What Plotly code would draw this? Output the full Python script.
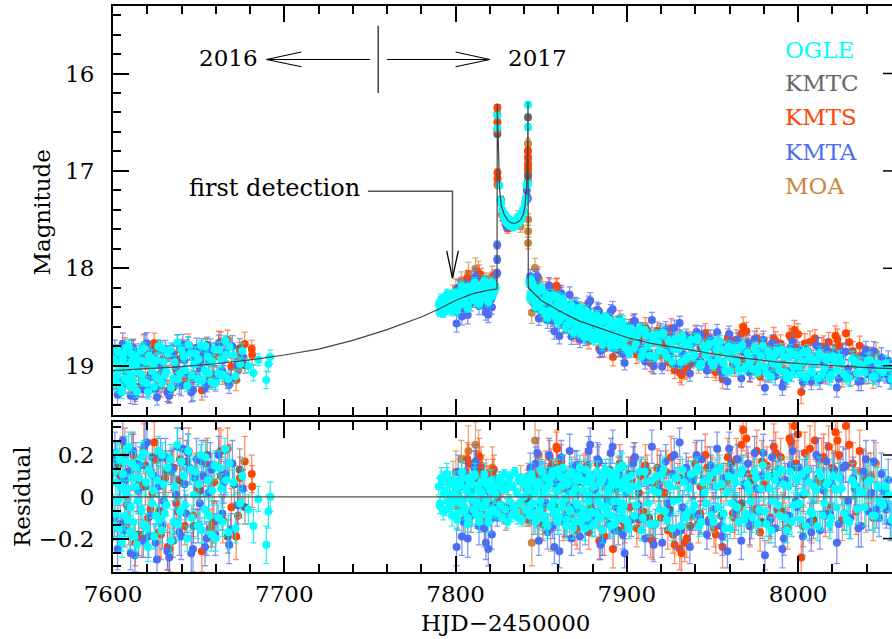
import numpy as np
import plotly.graph_objects as go

# ---------------- model light curve ----------------
model_t = [7600, 7620, 7640, 7660, 7680, 7700, 7720, 7740, 7760, 7780,
           7790, 7800, 7810, 7818, 7824.2, 7824.35, 7825.0, 7825.7, 7826.7, 7828.5,
           7830.2, 7832.0, 7834.1, 7836.0, 7838.0, 7839.5, 7840.4, 7841.5, 7842.1, 7842.3,
           7842.45, 7850, 7861, 7872, 7885, 7900, 7914, 7930, 7943, 7958,
           7972, 7987, 8002, 8020, 8040, 8055]
model_m = [19.05, 19.03, 19.01, 18.98, 18.94, 18.89, 18.83, 18.74, 18.63, 18.50,
           18.42, 18.33, 18.26, 18.23, 18.21, 16.31, 16.75, 17.19, 17.36, 17.45,
           17.50, 17.53, 17.54, 17.53, 17.50, 17.45, 17.38, 17.16, 16.75, 16.29,
           18.20, 18.33, 18.44, 18.54, 18.62, 18.71, 18.77, 18.82, 18.86, 18.90,
           18.93, 18.96, 18.98, 19.00, 19.02, 19.03]

# ---------------- OGLE ----------------
ogle_t = [7600.3, 7601.2, 7602.4, 7603.3, 7604.5, 7605.2, 7606.4, 7607.3, 7608.5, 7609.2,
          7610.4, 7611.3, 7612.5, 7613.2, 7614.4, 7616.3, 7617.5, 7619.2, 7620.4, 7622.3,
          7623.5, 7625.2, 7626.4, 7628.3, 7629.5, 7631.2, 7633.4, 7635.3, 7637.5, 7639.2,
          7641.4, 7643.3, 7645.5, 7647.2, 7649.4, 7651.3, 7653.5, 7655.2, 7657.4, 7659.3,
          7661.5, 7663.2, 7665.4, 7667.3, 7670.5, 7674.2, 7679.1, 7682.0, 7684.8, 7689.5,
          7690.7, 7691.8,
          7790.2, 7791.1, 7792.3, 7793.2, 7794.4, 7795.3, 7796.2, 7797.4, 7798.3, 7799.2,
          7800.4, 7801.3, 7802.5, 7803.2, 7804.4, 7805.3, 7806.5, 7807.2, 7808.4, 7809.3,
          7810.5, 7811.2, 7812.4, 7813.3, 7814.5, 7815.2, 7816.4, 7817.3, 7818.5, 7819.2,
          7820.4, 7821.3, 7822.5, 7823.4, 7843.0, 7843.8, 7844.6, 7845.5, 7846.4, 7847.3,
          7848.5, 7849.4, 7850.3, 7851.5, 7852.4, 7853.3, 7854.5, 7855.4, 7856.3, 7857.5,
          7858.4, 7859.3, 7860.5, 7861.4, 7862.3, 7863.5, 7864.4, 7865.3, 7866.5, 7867.4,
          7868.3, 7869.5, 7870.4, 7871.3, 7872.5, 7873.4, 7874.3, 7875.5, 7876.4, 7877.3,
          7878.5, 7879.4, 7880.3, 7881.5, 7882.4, 7883.3, 7884.5, 7885.4, 7886.3, 7887.5,
          7888.4, 7889.3, 7890.5, 7891.4, 7892.3, 7893.5, 7894.4, 7895.3, 7896.5, 7897.4,
          7898.3, 7899.5, 7900.4, 7901.3, 7902.5, 7904.4, 7906.3, 7908.5, 7910.4, 7912.3,
          7914.5, 7916.4, 7918.3, 7920.5, 7922.4, 7924.3, 7926.5, 7928.4, 7930.3, 7932.5,
          7934.4, 7936.3, 7938.5, 7940.4, 7942.3, 7944.5, 7946.4, 7948.3, 7950.5, 7952.4,
          7954.3, 7956.5, 7958.4, 7960.3, 7962.5, 7964.4, 7966.3, 7968.5, 7970.4, 7972.3,
          7974.5, 7976.4, 7978.3, 7980.5, 7982.4, 7984.3, 7986.5, 7988.4, 7990.3, 7992.5,
          7994.4, 7996.3, 7998.5, 8000.4, 8002.3, 8004.5, 8006.4, 8008.3, 8010.5, 8012.4,
          8014.3, 8016.5, 8018.4, 8020.3, 8022.5, 8025.4, 8028.3, 8031.5, 8034.4, 8037.3,
          8040.5, 8043.4, 8046.3, 8049.5, 8053.1, 8054.5]
ogle_res = [0.12, -0.08, 0.21, -0.15, 0.05, -0.22, 0.17, 0.02, -0.11, 0.24,
            -0.05, 0.09, -0.19, 0.14, -0.02, 0.19, -0.13, 0.07, -0.24, 0.11,
            0.03, -0.09, 0.22, -0.16, 0.06, -0.04, 0.18, -0.12, 0.25, -0.07,
            0.10, -0.20, 0.13, 0.01, -0.14, 0.20, -0.06, 0.08, -0.18, 0.15,
            -0.10, 0.04, 0.23, -0.17, 0.07, -0.03, -0.06, -0.14, -0.01, -0.23,
            -0.07, 0.00,
            0.05, -0.03, 0.08, 0.02, -0.06, 0.10, 0.01, -0.04, 0.07, -0.02,
            0.04, -0.08, 0.06, -0.01, 0.09, -0.05, 0.03, -0.10, 0.07, 0.00,
            -0.06, 0.11, -0.03, 0.05, -0.09, 0.02, 0.08, -0.04, 0.06, -0.12,
            0.03, -0.07, 0.05, 0.01, 0.06, -0.04, 0.09, -0.08, 0.02, -0.11,
            0.07, -0.02, 0.12, -0.09, 0.04, -0.13, 0.08, -0.05, 0.10, -0.01,
            -0.07, 0.13, -0.10, 0.05, -0.03, 0.09, -0.14, 0.06, -0.06, 0.11,
            0.02, -0.12, 0.08, -0.04, 0.14, -0.09, 0.03, -0.15, 0.07, -0.02,
            0.10, -0.07, 0.05, -0.13, 0.12, 0.00, -0.10, 0.08, -0.05, 0.13,
            -0.08, 0.04, -0.14, 0.09, -0.02, 0.11, -0.11, 0.06, -0.06, 0.15,
            -0.04, 0.07, -0.12, 0.03, 0.10, -0.09, 0.05, -0.16, 0.12, -0.03,
            0.08, -0.13, 0.02, 0.11, -0.07, 0.06, -0.15, 0.09, -0.01, 0.13,
            -0.10, 0.04, -0.06, 0.12, -0.14, 0.07, -0.03, 0.10, -0.12, 0.05,
            0.14, -0.08, 0.02, -0.15, 0.09, -0.05, 0.11, -0.11, 0.06, -0.02,
            0.12, -0.13, 0.04, -0.07, 0.10, -0.16, 0.08, -0.04, 0.13, -0.10,
            0.05, -0.12, 0.09, -0.03, 0.11, -0.14, 0.07, -0.08, 0.03, 0.12,
            -0.09, 0.06, -0.13, 0.10, -0.05, 0.04, -0.11, 0.08, -0.06, 0.02,
            0.07, -0.09, 0.05, -0.04, 0.01, -0.11]
ogle_err = [.06, .07, .05, .08, .06, .07, .05, .06, .08, .07,
            .06, .05, .07, .08, .06, .07, .05, .06, .07, .08,
            .06, .05, .07, .06, .08, .05, .07, .06, .08, .07,
            .05, .06, .07, .08, .06, .05, .07, .06, .08, .07,
            .06, .07, .05, .08, .06, .07, .07, .08, .06, .09,
            .08, .07,
            .04, .03, .04, .05, .03, .04, .04, .03, .05, .04,
            .03, .04, .05, .03, .04, .04, .05, .03, .04, .03,
            .04, .05, .03, .04, .03, .05, .04, .04, .03, .05,
            .04, .03, .05, .04, .04, .05, .03, .04, .05, .04,
            .05, .04, .04, .05, .03, .05, .04, .06, .04, .05,
            .04, .05, .06, .04, .05, .04, .06, .05, .04, .05,
            .05, .06, .04, .05, .06, .04, .05, .06, .05, .04,
            .06, .05, .04, .06, .05, .06, .04, .05, .06, .05,
            .05, .06, .05, .04, .06, .05, .06, .05, .04, .06,
            .05, .06, .05, .06, .04, .05, .06, .05, .06, .05,
            .06, .05, .06, .05, .06, .04, .06, .05, .06, .05,
            .05, .06, .05, .06, .05, .06, .05, .06, .05, .06,
            .06, .05, .06, .05, .06, .06, .05, .06, .05, .06,
            .06, .05, .06, .06, .05, .06, .06, .05, .06, .06,
            .06, .07, .06, .05, .07, .06, .06, .07, .06, .07,
            .07, .06, .07, .08, .07, .08, .07, .08, .07, .08,
            .08, .07, .09, .08, .08, .09]
# second block of OGLE epochs
ogle_t_b = [7600.8, 7601.7, 7602.9, 7603.8, 7604.9, 7605.8, 7606.9, 7607.8, 7608.9, 7609.8,
            7610.9, 7611.8, 7612.9, 7614.0, 7615.3, 7616.8, 7618.0, 7619.8, 7621.0, 7622.8,
            7624.0, 7625.8, 7627.0, 7628.8, 7630.2, 7632.0, 7633.9, 7636.0, 7638.0, 7640.0,
            7642.0, 7644.0, 7646.0, 7648.0, 7650.0, 7652.0, 7654.0, 7656.0, 7658.0, 7660.0,
            7662.0, 7664.0, 7666.0, 7668.0, 7671.5, 7675.5,
            7790.7, 7791.6, 7792.8, 7793.7, 7794.9, 7795.8, 7796.7, 7797.9, 7798.8, 7799.7,
            7800.9, 7801.8, 7803.0, 7803.7, 7804.9, 7805.8, 7807.0, 7807.7, 7808.9, 7809.8,
            7811.0, 7811.7, 7812.9, 7813.8, 7815.0, 7815.7, 7816.9, 7817.8, 7819.0, 7819.7,
            7820.9, 7821.8, 7823.0, 7843.4, 7844.2, 7845.0, 7845.9, 7846.8, 7847.7, 7848.9,
            7849.8, 7850.7, 7851.9, 7852.8, 7853.7, 7854.9, 7855.8, 7856.7, 7857.9, 7858.8,
            7859.7, 7860.9, 7861.8, 7862.7, 7863.9, 7864.8, 7865.7, 7866.9, 7867.8, 7868.7,
            7869.9, 7870.8, 7871.7, 7872.9, 7873.8, 7874.7, 7875.9, 7876.8, 7877.7, 7878.9,
            7879.8, 7880.7, 7881.9, 7882.8, 7883.7, 7884.9, 7885.8, 7886.7, 7887.9, 7888.8,
            7889.7, 7890.9, 7891.8, 7892.7, 7893.9, 7894.8, 7895.7, 7896.9, 7897.8, 7898.7,
            7899.9, 7901.3, 7903.4, 7905.4, 7907.3, 7909.4, 7911.3, 7913.4, 7915.4, 7917.3,
            7919.4, 7921.4, 7923.3, 7925.4, 7927.4, 7929.3, 7931.4, 7933.4, 7935.3, 7937.4,
            7939.4, 7941.3, 7943.4, 7945.4, 7947.3, 7949.4, 7951.4, 7953.3, 7955.4, 7957.4,
            7959.3, 7961.4, 7963.4, 7965.3, 7967.4, 7969.4, 7971.3, 7973.4, 7975.4, 7977.3,
            7979.4, 7981.4, 7983.3, 7985.4, 7987.4, 7989.3, 7991.4, 7993.4, 7995.3, 7997.4,
            7999.4, 8001.3, 8003.4, 8005.4, 8007.3, 8009.4, 8011.4, 8013.3, 8015.4, 8017.4,
            8019.3, 8021.4, 8023.9, 8026.8, 8029.9, 8032.9, 8035.8, 8038.9, 8041.9, 8044.8,
            8047.9, 8051.0]
ogle_res_b = [-0.14, 0.07, -0.02, 0.18, -0.20, 0.11, -0.09, 0.23, 0.04, -0.17,
              0.16, -0.12, 0.05, -0.23, 0.09, -0.06, 0.21, -0.15, 0.13, -0.03,
              -0.19, 0.08, -0.11, 0.20, -0.08, 0.14, -0.21, 0.05, -0.13, 0.17,
              -0.04, 0.22, -0.10, 0.12, 0.06, -0.16, 0.19, -0.09, 0.03, -0.20,
              0.14, -0.12, 0.08, 0.16, -0.15, 0.10,
              -0.04, 0.09, -0.07, 0.03, 0.11, -0.02, 0.06, -0.09, 0.01, 0.08,
              -0.11, 0.05, -0.03, 0.12, -0.07, 0.04, -0.13, 0.09, -0.01, 0.06,
              0.10, -0.08, 0.03, -0.12, 0.07, -0.05, 0.11, -0.02, -0.09, 0.04,
              0.08, -0.06, 0.02, -0.09, 0.11, -0.03, 0.07, -0.12, 0.05, -0.06,
              0.13, -0.10, 0.02, 0.09, -0.14, 0.06, -0.04, 0.12, -0.08, 0.03,
              -0.12, 0.10, -0.05, 0.14, -0.01, -0.11, 0.07, -0.07, 0.12, -0.15,
              0.04, -0.03, 0.10, -0.12, 0.08, -0.06, 0.13, -0.10, 0.01, 0.09,
              -0.14, 0.05, -0.08, 0.11, -0.03, 0.07, -0.16, 0.10, -0.05, 0.02,
              0.12, -0.09, 0.06, -0.13, 0.08, -0.02, 0.14, -0.07, 0.04, -0.11,
              0.09, -0.15, 0.05, -0.04, 0.12, -0.10, 0.07, -0.13, 0.03, 0.10,
              -0.06, 0.13, -0.11, 0.05, -0.02, 0.09, -0.14, 0.07, -0.08, 0.11,
              -0.04, 0.14, -0.12, 0.02, 0.08, -0.09, 0.12, -0.05, 0.06, -0.15,
              0.10, -0.03, 0.07, -0.12, 0.13, -0.08, 0.03, -0.10, 0.09, -0.06,
              0.15, -0.13, 0.04, -0.02, 0.11, -0.09, 0.06, -0.16, 0.12, -0.04,
              0.08, -0.11, 0.02, 0.13, -0.07, 0.05, -0.14, 0.10, -0.03, 0.07,
              -0.10, 0.04, 0.09, -0.08, -0.12, 0.06, 0.03, -0.05, 0.08, -0.09,
              -0.02, 0.05]
ogle_err_b = [.07, .06, .08, .07, .06, .08, .07, .06, .07, .08,
              .06, .07, .08, .06, .07, .08, .06, .07, .08, .07,
              .06, .08, .07, .06, .08, .07, .06, .07, .08, .06,
              .07, .08, .06, .07, .08, .06, .07, .08, .07, .06,
              .08, .07, .06, .08, .07, .08,
              .04, .05, .04, .03, .05, .04, .03, .05, .04, .04,
              .05, .04, .03, .05, .04, .05, .04, .03, .05, .04,
              .04, .05, .04, .05, .03, .04, .05, .04, .05, .04,
              .05, .04, .05, .04, .05, .04, .05, .06, .04, .05,
              .05, .06, .04, .05, .06, .05, .04, .06, .05, .05,
              .06, .05, .04, .06, .05, .06, .05, .04, .06, .05,
              .06, .05, .06, .05, .04, .06, .05, .06, .05, .06,
              .05, .06, .05, .06, .05, .04, .06, .05, .06, .05,
              .06, .05, .06, .05, .06, .05, .06, .05, .06, .05,
              .06, .05, .06, .06, .05, .06, .05, .06, .06, .05,
              .06, .06, .05, .06, .06, .05, .06, .06, .05, .06,
              .06, .05, .06, .06, .05, .06, .06, .05, .06, .06,
              .06, .07, .06, .06, .07, .06, .06, .07, .06, .06,
              .07, .06, .07, .06, .07, .06, .07, .06, .07, .06,
              .07, .06, .07, .07, .06, .07, .07, .06, .07, .07,
              .07, .08, .07, .08, .08, .07, .08, .09, .08, .08,
              .09, .08]
ogle_pk_t = [7824.40, 7824.45, 7825.55, 7826.1, 7826.7, 7827.3, 7827.9, 7828.5, 7829.1, 7829.7,
             7830.3, 7830.9, 7831.5, 7832.1, 7832.7, 7833.3, 7833.9, 7834.5, 7835.1, 7835.7,
             7836.3, 7836.9, 7837.5, 7838.1, 7838.7, 7839.3, 7839.9, 7840.5, 7841.0, 7841.5,
             7842.30, 7842.30, 7842.30]
ogle_pk_m = [16.43, 16.56, 17.15, 17.30, 17.33, 17.40, 17.47, 17.44, 17.52, 17.47,
             17.54, 17.49, 17.56, 17.51, 17.57, 17.52, 17.58, 17.51, 17.56, 17.49,
             17.55, 17.47, 17.52, 17.44, 17.49, 17.40, 17.42, 17.33, 17.28, 17.15,
             16.32, 16.55, 17.13]
ogle_pk_res = [0.05, -0.08, 0.09, -0.04, 0.07, -0.10, 0.03, 0.11, -0.06, 0.04,
               -0.12, 0.08, -0.02, 0.10, -0.09, 0.05, -0.05, 0.12, -0.07, 0.02,
               -0.10, 0.08, -0.03, 0.09, -0.11, 0.06, 0.00, 0.07, -0.06, 0.09,
               0.03, -0.07, 0.05]
ogle_pk_err = [.03, .03, .03, .02, .03, .02, .03, .02, .03, .02,
               .03, .02, .03, .02, .03, .02, .03, .02, .03, .02,
               .03, .02, .03, .02, .03, .02, .03, .02, .03, .02,
               .03, .03, .03]

# ---------------- KMTA ----------------
kmta_t = [7600.6, 7601.6, 7602.7, 7603.8, 7605.7, 7606.8, 7608.7, 7609.8, 7611.7, 7612.8,
          7614.7, 7615.8, 7617.7, 7619.8, 7621.7, 7623.8, 7625.7, 7627.8, 7629.7, 7631.8,
          7633.7, 7635.8, 7637.7, 7639.8, 7641.7, 7643.8, 7645.7, 7647.8, 7649.7, 7651.8,
          7653.7, 7655.8, 7657.7, 7659.8, 7661.7, 7663.8, 7665.7, 7667.8, 7669.7, 7672.8,
          7800.6, 7802.7, 7804.8, 7806.6, 7807.1, 7808.7, 7810.8, 7812.6, 7814.7, 7816.8,
          7818.6, 7819.1, 7820.7, 7821.2, 7822.8, 7843.2, 7844.7, 7846.8, 7848.6, 7850.7,
          7852.8, 7854.6, 7856.7, 7858.8, 7860.6, 7862.7, 7864.8, 7866.6, 7868.7, 7870.8,
          7872.6, 7874.7, 7876.8, 7878.6, 7880.7, 7882.8, 7884.6, 7886.7, 7888.8, 7890.6,
          7892.7, 7894.8, 7896.6, 7898.7, 7900.8, 7902.6, 7904.7, 7906.8, 7908.6, 7910.7,
          7912.8, 7914.6, 7916.7, 7918.8, 7920.6, 7922.7, 7924.8, 7926.6, 7928.7, 7930.8,
          7932.6, 7934.7, 7936.8, 7938.6, 7940.7, 7942.8, 7944.6, 7946.7, 7948.8, 7950.6,
          7952.7, 7954.8, 7956.6, 7958.7, 7960.8, 7962.6, 7964.7, 7966.8, 7968.6, 7970.7,
          7972.8, 7974.6, 7976.7, 7978.8, 7980.6, 7982.7, 7984.8, 7986.6, 7988.7, 7990.8,
          7992.6, 7994.7, 7996.8, 7998.6, 8000.7, 8002.8, 8004.6, 8006.7, 8008.8, 8010.6,
          8012.7, 8014.8, 8016.6, 8018.7, 8020.8, 8022.6, 8024.7, 8027.8, 8030.6, 8033.7,
          8036.8, 8039.6, 8042.7, 8045.8, 8048.6, 8050.7]
kmta_res = [-0.10, 0.18, -0.25, 0.07, 0.27, -0.16, 0.12, -0.05, 0.22, -0.28,
            0.03, 0.15, -0.21, 0.26, -0.09, 0.10, -0.30, 0.19, -0.02, -0.26,
            0.14, -0.12, 0.24, -0.19, 0.06, 0.21, -0.27, 0.09, -0.14, 0.17,
            -0.24, 0.02, 0.13, -0.18, 0.20, -0.08, 0.11, -0.23, 0.16, -0.04,
            -0.24, 0.05, -0.12, 0.10, -0.20, 0.02, 0.14, -0.08, 0.07, -0.15,
            0.03, -0.25, -0.10, -0.18, 0.04, 0.09, -0.06, 0.16, -0.21, 0.11,
            -0.03, 0.20, -0.14, 0.06, -0.26, 0.13, -0.09, 0.22, -0.05, 0.15,
            -0.19, 0.08, -0.12, 0.25, -0.07, 0.18, -0.23, 0.10, -0.02, 0.21,
            -0.16, 0.05, 0.14, -0.27, 0.09, -0.11, 0.19, -0.04, 0.12, -0.20,
            0.07, 0.24, -0.13, 0.03, -0.22, 0.17, -0.08, 0.11, -0.17, 0.26,
            -0.05, 0.14, -0.24, 0.08, 0.20, -0.10, 0.02, -0.18, 0.15, -0.06,
            0.23, -0.14, 0.09, -0.26, 0.12, -0.03, 0.18, -0.21, 0.06, 0.16,
            -0.11, 0.21, -0.07, 0.10, -0.28, 0.04, 0.19, -0.15, 0.13, -0.25,
            0.08, -0.09, 0.22, -0.02, 0.14, -0.19, 0.11, -0.12, 0.06, 0.20,
            -0.16, 0.03, 0.17, -0.08, 0.12, -0.22, 0.09, 0.15, -0.10, 0.05,
            -0.14, 0.18, 0.02, -0.06, 0.11, -0.04]
kmta_err = [.09, .08, .10, .09, .11, .08, .09, .10, .09, .08,
            .10, .09, .08, .11, .09, .10, .08, .09, .10, .09,
            .08, .10, .09, .11, .08, .09, .10, .09, .08, .10,
            .09, .11, .08, .10, .09, .08, .10, .09, .11, .09,
            .09, .08, .07, .08, .09, .07, .08, .07, .08, .09,
            .07, .08, .08, .07, .09, .06, .07, .08, .07, .06,
            .07, .08, .06, .07, .08, .07, .06, .08, .07, .07,
            .08, .07, .06, .08, .07, .08, .07, .06, .08, .07,
            .08, .07, .08, .07, .06, .08, .07, .08, .07, .08,
            .07, .08, .07, .08, .07, .08, .08, .07, .08, .07,
            .08, .07, .08, .09, .07, .08, .08, .07, .09, .08,
            .08, .09, .07, .08, .09, .08, .07, .09, .08, .08,
            .09, .08, .09, .08, .07, .09, .08, .09, .08, .09,
            .08, .09, .08, .09, .08, .09, .08, .09, .09, .08,
            .09, .10, .09, .08, .09, .10, .09, .08, .10, .09,
            .10, .09, .10, .09, .10, .09]
kmta_t_b = [7601.1, 7604.2, 7607.3, 7610.3, 7613.3, 7616.3, 7618.7, 7620.8, 7622.7, 7624.8,
            7626.7, 7628.8, 7630.7, 7632.8, 7634.7, 7636.8, 7638.7, 7640.8, 7642.7, 7644.8,
            7646.7, 7648.8, 7650.7, 7652.8, 7654.7, 7656.8, 7660.7, 7664.8, 7668.7, 7675.8,
            7801.6, 7803.7, 7805.7, 7809.7, 7811.7, 7813.7, 7815.7, 7817.7, 7843.7, 7845.7,
            7847.7, 7849.7, 7851.7, 7853.7, 7855.7, 7857.7, 7859.7, 7861.7, 7863.7, 7865.7,
            7867.7, 7869.7, 7871.7, 7873.7, 7875.7, 7877.7, 7879.7, 7881.7, 7883.7, 7885.7,
            7887.7, 7889.7, 7891.7, 7893.7, 7895.7, 7897.7, 7899.7, 7903.7, 7907.7, 7911.7,
            7915.7, 7919.7, 7923.7, 7927.7, 7931.7, 7935.7, 7939.7, 7943.7, 7947.7, 7951.7,
            7955.7, 7959.7, 7963.7, 7967.7, 7971.7, 7975.7, 7979.7, 7983.7, 7987.7, 7991.7,
            7995.7, 7999.7, 8003.7, 8007.7, 8011.7, 8015.7, 8019.7, 8023.7, 8026.2, 8029.2,
            8032.2, 8035.2, 8038.2, 8041.2, 8044.2, 8047.2, 8049.7, 8051.5, 8052.6, 8053.8]
kmta_res_b = [0.21, -0.13, 0.08, -0.27, 0.16, -0.06, 0.25, -0.19, 0.11, -0.22,
              0.05, -0.14, 0.19, -0.29, 0.13, 0.01, -0.17, 0.23, -0.08, 0.14,
              -0.25, 0.18, -0.03, 0.10, -0.20, 0.15, -0.11, 0.07, -0.16, 0.04,
              0.12, -0.19, 0.08, -0.07, 0.17, -0.14, 0.05, -0.22, 0.14, -0.10,
              0.21, -0.04, 0.09, -0.17, 0.13, -0.24, 0.06, 0.19, -0.12, 0.03,
              -0.20, 0.15, -0.06, 0.10, -0.15, 0.22, -0.09, 0.04, 0.17, -0.21,
              0.08, -0.13, 0.24, -0.05, 0.11, -0.18, 0.02, 0.16, -0.10, 0.07,
              -0.23, 0.13, -0.03, 0.20, -0.16, 0.09, -0.08, 0.18, -0.12, 0.05,
              -0.19, 0.23, -0.07, 0.12, -0.14, 0.04, 0.21, -0.11, 0.08, -0.20,
              0.15, -0.05, 0.10, -0.17, 0.19, -0.09, 0.06, -0.13, 0.14, -0.02,
              0.09, -0.15, 0.12, -0.07, 0.17, -0.10, 0.03, -0.06, 0.08, -0.12]
kmta_err_b = [.10, .09, .11, .08, .10, .09, .11, .10, .08, .09,
              .10, .11, .09, .08, .10, .09, .11, .10, .09, .08,
              .11, .10, .09, .10, .08, .11, .09, .10, .08, .09,
              .08, .09, .08, .07, .08, .09, .07, .08, .07, .08,
              .07, .08, .07, .08, .07, .08, .07, .08, .07, .08,
              .08, .07, .08, .07, .08, .07, .08, .07, .08, .07,
              .08, .07, .08, .07, .08, .07, .08, .08, .07, .08,
              .08, .09, .08, .08, .09, .08, .08, .09, .08, .08,
              .09, .08, .09, .08, .09, .08, .09, .08, .09, .08,
              .09, .09, .08, .09, .09, .08, .09, .09, .10, .09,
              .10, .09, .10, .09, .10, .09, .10, .09, .10, .09]
kmta_pk_t = [7824.30, 7824.30, 7824.30, 7829.9, 7841.6, 7842.2]
kmta_pk_m = [17.76, 17.91, 18.05, 17.57, 17.20, 17.28]
kmta_pk_res = [-0.05, 0.03, -0.10, -0.06, 0.04, -0.08]
kmta_pk_err = [.04, .04, .04, .05, .04, .04]

# ---------------- KMTS ----------------
kmts_t = [7604.2, 7606.9, 7609.1, 7611.9, 7614.1, 7616.9, 7619.1, 7621.9, 7624.1, 7626.9,
          7629.1, 7631.9, 7634.1, 7636.9, 7639.1, 7641.9, 7644.1, 7646.9, 7649.1, 7651.9,
          7654.1, 7656.9, 7659.1, 7661.9, 7664.1, 7666.9, 7669.1, 7671.9, 7674.1, 7676.9,
          7681.0, 7681.3,
          7805.9, 7807.8, 7809.9, 7811.8, 7813.9, 7815.8, 7817.9, 7819.8, 7821.9, 7823.1,
          7843.9, 7845.8, 7847.9, 7849.8, 7851.9, 7853.8, 7855.9, 7857.8, 7859.2, 7861.8,
          7863.9, 7865.8, 7867.9, 7869.8, 7871.9, 7873.8, 7875.9, 7877.8, 7879.9, 7881.8,
          7883.9, 7885.8, 7887.9, 7889.8, 7891.9, 7893.8, 7895.9, 7897.8, 7899.9, 7901.8,
          7903.9, 7905.8, 7907.9, 7909.8, 7911.9, 7913.8, 7915.9, 7917.8, 7919.9, 7921.8,
          7923.9, 7925.8, 7927.9, 7929.8, 7931.9, 7933.8, 7935.9, 7937.8, 7939.9, 7941.8,
          7943.9, 7945.8, 7947.9, 7949.8, 7951.9, 7953.8, 7955.9, 7957.8, 7959.9, 7961.8,
          7963.9, 7965.8, 7967.9, 7969.8, 7971.9, 7973.8, 7975.9, 7977.8, 7979.9, 7981.8,
          7983.9, 7985.8, 7987.9, 7989.8, 7991.9, 7993.8, 7995.9, 7997.8, 7999.9, 8001.8,
          8003.9, 8005.8, 8007.9, 8009.8, 8011.9, 8013.8, 8015.9, 8017.8, 8019.9, 8021.8,
          8023.9, 8025.8, 8027.9, 8029.8, 8031.9, 8033.8, 8035.9, 8037.8, 8040.9, 8043.8]
kmts_res = [0.10, 0.24, -0.12, 0.20, 0.05, -0.20, 0.15, -0.06, 0.26, -0.17,
            0.08, -0.24, 0.12, -0.03, 0.18, -0.14, 0.22, -0.09, 0.04, -0.26,
            0.16, -0.15, 0.07, 0.21, -0.11, 0.23, -0.05, -0.19, 0.09, 0.17,
            0.11, 0.05,
            0.12, 0.16, 0.08, 0.14, 0.19, 0.06, 0.11, 0.04, 0.10, 0.02,
            -0.05, 0.08, -0.12, 0.10, -0.03, 0.06, 0.15, -0.08, 0.23, 0.17,
            -0.10, 0.05, 0.12, -0.14, 0.09, -0.06, 0.14, -0.17, 0.03, 0.11,
            -0.21, 0.07, -0.09, 0.13, -0.25, 0.04, 0.16, -0.12, 0.08, -0.05,
            0.18, -0.15, 0.10, -0.07, 0.12, -0.20, 0.06, 0.14, -0.10, 0.02,
            -0.16, 0.19, -0.23, 0.08, -0.27, -0.22, 0.11, -0.09, 0.16, -0.13,
            0.05, 0.20, -0.11, 0.09, -0.18, 0.14, -0.24, 0.07, 0.12, -0.08,
            0.18, -0.05, 0.32, 0.28, -0.14, 0.10, 0.22, -0.17, 0.06, 0.15,
            -0.10, 0.24, -0.06, 0.19, 0.08, -0.15, 0.26, 0.34, 0.30, -0.29,
            0.21, 0.13, -0.12, 0.27, 0.09, 0.18, -0.08, 0.24, 0.14, 0.31,
            0.20, -0.11, 0.34, 0.25, 0.16, -0.07, 0.22, 0.12, 0.09, -0.10]
kmts_err = [.10, .09, .11, .10, .12, .09, .10, .11, .10, .12,
            .09, .11, .10, .12, .10, .09, .11, .10, .12, .10,
            .11, .09, .10, .12, .11, .10, .09, .11, .10, .12,
            .09, .10,
            .08, .09, .07, .08, .09, .08, .07, .09, .08, .07,
            .08, .07, .09, .08, .07, .09, .08, .07, .09, .08,
            .09, .08, .07, .09, .08, .09, .07, .08, .09, .08,
            .09, .08, .09, .07, .09, .08, .09, .08, .07, .09,
            .08, .09, .08, .09, .08, .09, .08, .09, .08, .09,
            .09, .10, .09, .08, .10, .09, .08, .09, .10, .09,
            .09, .10, .09, .10, .09, .08, .10, .09, .10, .09,
            .10, .09, .10, .09, .10, .09, .10, .09, .10, .09,
            .10, .11, .10, .09, .11, .10, .09, .10, .11, .12,
            .10, .11, .10, .09, .11, .10, .11, .10, .11, .10,
            .11, .10, .11, .12, .10, .11, .10, .11, .12, .11]
kmts_t_b = [7602.5, 7605.5, 7608.0, 7610.5, 7613.0, 7615.5, 7618.0, 7620.5, 7623.0, 7625.5,
            7628.0, 7630.5, 7633.0, 7635.5, 7638.0, 7648.0, 7658.0, 7663.0, 7668.0, 7673.0,
            7806.9, 7810.9, 7814.9, 7818.9, 7822.4, 7846.9, 7850.9, 7854.9, 7858.9, 7862.9,
            7866.9, 7870.9, 7874.9, 7878.9, 7882.9, 7886.9, 7890.9, 7894.9, 7898.9, 7902.9,
            7906.9, 7910.9, 7914.9, 7918.9, 7922.9, 7926.9, 7930.9, 7934.9, 7938.9, 7942.9,
            7946.9, 7950.9, 7954.9, 7958.9, 7962.9, 7966.9, 7970.9, 7974.9, 7978.9, 7982.9,
            7986.9, 7990.9, 7994.9, 7998.9, 8002.9, 8006.9, 8010.9, 8014.9, 8018.9, 8022.9]
kmts_res_b = [-0.15, 0.19, -0.04, 0.13, -0.22, 0.07, 0.23, -0.10, 0.02, 0.18,
              -0.18, 0.09, -0.25, 0.14, -0.07, 0.11, -0.13, 0.22, 0.16, -0.09,
              0.18, 0.09, 0.15, 0.07, 0.13, 0.11, -0.09, 0.19, 0.24, -0.12,
              0.07, -0.16, 0.12, -0.05, 0.16, -0.19, 0.04, 0.10, -0.14, 0.08,
              -0.11, 0.15, -0.21, 0.06, 0.12, -0.18, -0.25, -0.20, 0.09, -0.08,
              0.14, -0.15, 0.05, 0.19, -0.10, 0.25, 0.11, -0.06, 0.17, -0.13,
              0.21, -0.09, 0.28, 0.16, -0.14, 0.23, 0.07, 0.19, -0.05, 0.27]
kmts_err_b = [.11, .10, .12, .10, .11, .09, .12, .10, .11, .10,
              .12, .09, .11, .10, .12, .10, .11, .10, .09, .11,
              .08, .07, .09, .08, .07, .08, .09, .08, .07, .09,
              .08, .09, .08, .09, .08, .09, .08, .09, .08, .09,
              .09, .10, .09, .08, .10, .09, .10, .09, .10, .09,
              .10, .09, .10, .09, .10, .09, .10, .09, .10, .09,
              .10, .11, .10, .11, .10, .11, .10, .11, .10, .11]
kmts_pk_t = [7824.40, 7824.40, 7824.42, 7824.42, 7824.50, 7824.50, 7824.55, 7828.4, 7829.3, 7830.4,
             7831.2, 7842.28, 7842.28, 7842.30, 7842.30]
kmts_pk_m = [16.35, 16.42, 16.50, 16.58, 17.02, 17.08, 17.14, 17.50, 17.55, 17.59,
             17.57, 16.79, 16.86, 16.93, 16.98]
kmts_pk_res = [0.03, -0.02, 0.05, -0.04, 0.02, -0.06, 0.04, -0.08, -0.11, 0.06,
               -0.05, 0.03, -0.07, 0.05, -0.11]
kmts_pk_err = [.03, .03, .03, .03, .04, .04, .04, .05, .05, .05,
               .05, .03, .03, .03, .03]

# ---------------- KMTC ----------------
kmtc_t = [7603.0, 7607.0, 7610.9, 7615.0, 7618.9, 7623.0, 7627.0, 7630.9, 7635.0, 7638.9,
          7643.0, 7647.0, 7650.9, 7655.0, 7658.9, 7663.0, 7667.0, 7670.9, 7674.0, 7677.0,
          7803.0, 7809.0, 7815.0, 7821.0, 7845.0, 7851.0, 7857.0, 7858.6, 7859.0, 7859.4,
          7865.0, 7871.0, 7877.0, 7883.0, 7889.0, 7895.0, 7901.0, 7907.0, 7913.0, 7919.0,
          7925.0, 7931.0, 7937.0, 7943.0, 7949.0, 7955.0, 7961.0, 7967.0, 7973.0, 7979.0,
          7985.0, 7991.0, 7997.0, 8003.0, 8009.0, 8015.0, 8021.0, 8027.0, 8033.0, 8039.0]
kmtc_res = [0.15, -0.10, 0.22, -0.18, 0.05, 0.19, -0.07, 0.12, -0.21, 0.08,
            0.17, -0.14, 0.03, 0.20, -0.12, 0.10, -0.19, 0.06, 0.13, -0.05,
            0.06, -0.09, 0.12, -0.04, 0.08, -0.13, 0.10, -0.05, 0.03, 0.14,
            -0.11, 0.07, 0.15, -0.08, 0.04, -0.16, 0.11, 0.02, -0.10, 0.13,
            -0.06, 0.09, -0.14, 0.05, 0.12, -0.09, 0.16, -0.03, 0.08, -0.12,
            0.10, -0.07, 0.14, 0.01, -0.11, 0.06, 0.13, -0.08, 0.04, 0.09]
kmtc_err = [.08, .09, .08, .10, .09, .08, .09, .10, .08, .09,
            .10, .08, .09, .08, .10, .09, .08, .09, .10, .08,
            .07, .08, .07, .08, .07, .08, .07, .08, .07, .08,
            .08, .07, .08, .07, .08, .07, .08, .07, .08, .07,
            .08, .09, .08, .07, .08, .09, .08, .07, .09, .08,
            .09, .08, .09, .08, .09, .08, .09, .08, .09, .08]
kmtc_pk_t = [7824.40, 7826.5, 7842.30, 7842.30]
kmtc_pk_m = [16.62, 17.30, 16.45, 17.05]
kmtc_pk_res = [0.02, -0.04, 0.05, -0.02]
kmtc_pk_err = [.03, .04, .03, .03]

# ---------------- MOA ----------------
moa_t = [7798.5, 7800.2, 7801.5, 7803.4, 7805.6, 7807.5, 7809.4, 7811.6, 7812.5, 7813.4,
         7814.6, 7815.5, 7817.4, 7819.6, 7821.5, 7843.1, 7844.5, 7846.4, 7848.6, 7850.5,
         7852.4, 7855.6, 7858.5, 7862.4, 7866.6, 7871.5, 8036.4, 8039.6, 8042.5, 8045.4]
moa_res = [0.08, 0.12, -0.05, 0.18, -0.10, 0.22, 0.05, 0.25, 0.15, 0.20,
           -0.08, 0.10, -0.11, 0.03, 0.14, 0.06, -0.22, 0.27, 0.20, -0.06,
           0.12, -0.15, 0.09, 0.04, -0.09, 0.07, 0.12, -0.05, 0.10, 0.16]
moa_err = [.09, .10, .11, .09, .10, .12, .09, .11, .10, .12,
           .09, .10, .11, .09, .10, .08, .11, .10, .12, .09,
           .10, .11, .09, .10, .12, .11, .10, .12, .11, .10]
moa_pk_t = [7827.0, 7836.5, 7838.0, 7839.5, 7842.30, 7842.30, 7842.30, 7842.30, 7842.30, 7842.30,
            7842.35, 7842.35, 7842.35]
moa_pk_m = [17.45, 17.47, 17.57, 17.41, 16.72, 16.80, 16.88, 16.96, 17.02, 17.10,
            17.50, 17.62, 17.74]
moa_pk_res = [0.06, -0.04, 0.09, -0.07, 0.05, -0.03, 0.08, -0.06, 0.04, -0.09,
              0.07, -0.05, 0.10]
moa_pk_err = [.06, .06, .06, .06, .05, .05, .05, .05, .05, .05,
              .06, .06, .06]

labels = ["OGLE", "KMTC", "KMTS", "KMTA", "MOA"]
colors = {"OGLE": "#00FFFF", "KMTC": "#666666", "KMTS": "#FF4500",
          "KMTA": "#4B6EF2", "MOA": "#CD853F"}
ecolors = {"OGLE": "rgba(0,235,235,0.8)", "KMTC": "rgba(90,90,90,0.6)",
           "KMTS": "rgba(255,80,20,0.65)", "KMTA": "rgba(75,110,242,0.7)",
           "MOA": "rgba(205,133,63,0.7)"}

datasets = {
    "OGLE": (ogle_t + ogle_t_b, ogle_res + ogle_res_b, ogle_err + ogle_err_b,
             ogle_pk_t, ogle_pk_m, ogle_pk_res, ogle_pk_err),
    "KMTC": (kmtc_t, kmtc_res, kmtc_err, kmtc_pk_t, kmtc_pk_m, kmtc_pk_res, kmtc_pk_err),
    "KMTS": (kmts_t + kmts_t_b, kmts_res + kmts_res_b, kmts_err + kmts_err_b,
             kmts_pk_t, kmts_pk_m, kmts_pk_res, kmts_pk_err),
    "KMTA": (kmta_t + kmta_t_b, kmta_res + kmta_res_b, kmta_err + kmta_err_b,
             kmta_pk_t, kmta_pk_m, kmta_pk_res, kmta_pk_err),
    "MOA": (moa_t, moa_res, moa_err, moa_pk_t, moa_pk_m, moa_pk_res, moa_pk_err),
}

FONT = "DejaVu Serif"
fig = go.Figure()

draw_order = ["MOA", "KMTC", "KMTS", "KMTA", "OGLE"]
for name in draw_order:
    t, r, e, pt, pm, pr, pe = datasets[name]
    # magnitude = model - residual (residual defined as model - data)
    mag = (np.interp(t, model_t, model_m) - np.array(r)).tolist()
    x_all = list(t) + list(pt)
    y_top = mag + list(pm)
    y_bot = list(r) + list(pr)
    e_all = list(e) + list(pe)
    mk = dict(color=colors[name], size=8, line=dict(width=0))
    fig.add_trace(go.Scatter(x=x_all, y=y_top, mode="markers", marker=mk,
                             error_y=dict(type="data", array=e_all, color=ecolors[name],
                                          thickness=1.3, width=3),
                             xaxis="x", yaxis="y", hoverinfo="skip"))
    fig.add_trace(go.Scatter(x=x_all, y=y_bot, mode="markers", marker=mk,
                             error_y=dict(type="data", array=e_all, color=ecolors[name],
                                          thickness=1.3, width=3),
                             xaxis="x2", yaxis="y2", hoverinfo="skip"))

# model curve on top
fig.add_trace(go.Scatter(x=model_t, y=model_m, mode="lines",
                         line=dict(color="#444444", width=1.2),
                         xaxis="x", yaxis="y", hoverinfo="skip"))

tickfont = dict(family=FONT, size=23, color="black")
common = dict(showline=True, linecolor="black", linewidth=2, ticks="inside",
              tickcolor="black", tickwidth=1.5, ticklen=16, showgrid=False,
              zeroline=False, tickfont=tickfont)
xminor = dict(dtick=20, tick0=7600, ticklen=8, ticks="inside", tickcolor="black", tickwidth=1.5)

fig.update_layout(
    width=892, height=639,
    margin=dict(l=113, r=0, t=6, b=67),
    paper_bgcolor="white", plot_bgcolor="white",
    showlegend=False, hovermode=False,
    xaxis=dict(domain=[0, 1], anchor="y", range=[7600, 8054.8], dtick=100, tick0=7600,
               showticklabels=False, mirror="ticks", minor=xminor, **common),
    xaxis2=dict(domain=[0, 1], anchor="y2", range=[7600, 8054.8], dtick=100, tick0=7600,
                matches="x", mirror="ticks", minor=xminor, ticklabelstandoff=0, **common),
    yaxis=dict(domain=[0.2774, 1], anchor="x", range=[19.506, 15.307], dtick=1, tick0=16,
               mirror=False, ticklabelstandoff=12,
               minor=dict(dtick=0.2, tick0=16, ticklen=8, ticks="inside",
                          tickcolor="black", tickwidth=1.5), **common),
    yaxis2=dict(domain=[0, 0.2655], anchor="x2", range=[-0.36, 0.36],
                tickvals=[-0.2, 0, 0.2], mirror=False, ticklabelstandoff=12,
                minor=dict(dtick=0.2 / 3, tick0=0, ticklen=8, ticks="inside",
                           tickcolor="black", tickwidth=1.5), **common),
)

# zero line in residual panel
fig.add_shape(type="line", xref="x2 domain", x0=0, x1=1, yref="y2", y0=0, y1=0,
              line=dict(color="#555555", width=1.1), layer="above")

# right-hand major ticks (frame extends past the image edge)
for yv in [16, 17, 18, 19]:
    fig.add_shape(type="line", xref="paper", x0=1 - 9 / 779, x1=1, yref="y", y0=yv, y1=yv,
                  line=dict(color="black", width=1.5))
for yv in [-0.2, 0, 0.2]:
    fig.add_shape(type="line", xref="paper", x0=1 - 9 / 779, x1=1, yref="y2", y0=yv, y1=yv,
                  line=dict(color="black", width=1.5))

# 2016 | 2017 arrows
blk = dict(color="black", width=1.1)
fig.add_shape(type="line", xref="x", yref="y", x0=7754.8, x1=7754.8, y0=15.51, y1=16.20, line=blk)
fig.add_shape(type="line", xref="x", yref="y", x0=7689.6, x1=7750.0, y0=15.857, y1=15.857, line=blk)
fig.add_shape(type="path", xref="x", yref="y",
              path="M 7710,15.78 L 7689.6,15.857 L 7710,15.93", line=blk)
fig.add_shape(type="line", xref="x", yref="y", x0=7760.0, x1=7820.0, y0=15.857, y1=15.857, line=blk)
fig.add_shape(type="path", xref="x", yref="y",
              path="M 7800,15.78 L 7820,15.857 L 7800,15.93", line=blk)

# first detection pointer
gr = dict(color="#555555", width=1.5)
fig.add_shape(type="path", xref="x", yref="y",
              path="M 7748.8,17.21 L 7798.2,17.21 L 7798.2,18.10", line=gr)
fig.add_shape(type="path", xref="x", yref="y",
              path="M 7794.8,17.82 L 7798.2,18.10 L 7801.6,17.82", line=dict(color="black", width=1.3))

txt = dict(family=FONT, size=23, color="black")
fig.add_annotation(x=7667.7, y=15.84, xref="x", yref="y", text="2016", showarrow=False,
                   xanchor="center", yanchor="middle", font=txt)
fig.add_annotation(x=7847.8, y=15.84, xref="x", yref="y", text="2017", showarrow=False,
                   xanchor="center", yanchor="middle", font=txt)
fig.add_annotation(x=7745.5, y=17.18, xref="x", yref="y", text="first detection",
                   showarrow=False, xanchor="right", yanchor="middle",
                   font=dict(family=FONT, size=24, color="black"))

leg_y = [15.755, 16.10, 16.45, 16.81, 17.15]
for lab, yy in zip(labels, leg_y):
    fig.add_annotation(x=7991.4, y=yy, xref="x", yref="y", text=lab, showarrow=False,
                       xanchor="left", yanchor="middle",
                       font=dict(family=FONT, size=23, color=colors[lab]))

fig.add_annotation(x=-0.0911, y=0.635, xref="paper", yref="paper", text="Magnitude",
                   textangle=-90, showarrow=False, xanchor="center", yanchor="middle", font=txt)
fig.add_annotation(x=-0.1168, y=0.1325, xref="paper", yref="paper", text="Residual",
                   textangle=-90, showarrow=False, xanchor="center", yanchor="middle", font=txt)
fig.add_annotation(x=0.5042, y=-0.090, xref="paper", yref="paper", text="HJD\u22122450000",
                   showarrow=False, xanchor="center", yanchor="middle", font=txt)

fig.write_html("out.html")
